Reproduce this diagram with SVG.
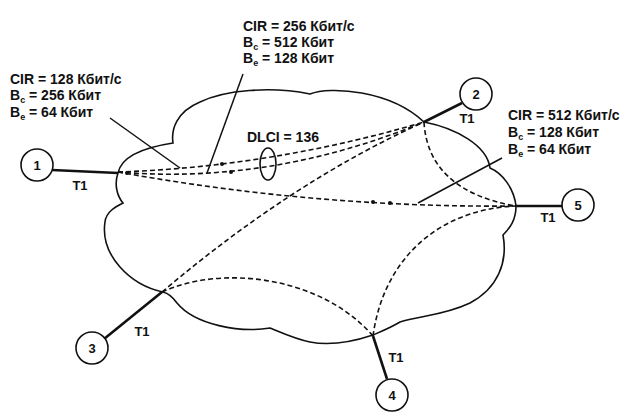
<svg xmlns="http://www.w3.org/2000/svg" width="643" height="420" viewBox="0 0 643 420">
<defs>
<style>
text{font-family:"Liberation Sans",Arial,sans-serif;font-weight:bold;fill:#111}
.lbl{font-size:14px}
.sub{font-size:9px}
.num{font-size:13px;text-anchor:middle}
.t1{font-size:13px;text-anchor:middle}
.node{fill:#fff;stroke:#111;stroke-width:1.6}
.link{stroke:#111;stroke-width:2.6;fill:none}
.cloud{fill:none;stroke:#111;stroke-width:1.6}
.vc{fill:none;stroke:#111;stroke-width:1.6;stroke-dasharray:5 3}
.ptr{stroke:#111;stroke-width:1.5;fill:none}
.dot{fill:#111}
</style>
</defs>
<rect width="643" height="420" fill="#fff"/>
<g id="cloud">
<path class="cloud" d="M118,173 C121,158 140,148 173,143 C171,130 176,112 200,102 C225,90 270,86 310,94 C330,86 390,90 424,122 C455,128 487,145 490,168 C502,173 514,188 516,206 C516,220 510,228 503,235 C508,262 498,288 470,303 C445,315 420,316 400,322 C390,328 380,332 373,335 C355,341 330,346 310,342 C295,339 280,332 270,328 C240,333 195,325 177,303 C172,296 167,293 163,292 C130,285 100,255 105,222 C106,212 115,207 123,203 C117,196 114,184 118,173 Z"/>
</g>
<g id="connectors">
<path class="vc" d="M118,172 Q271,167 424,122"/>
<path class="vc" d="M118,172 Q271,185 424,122"/>
<path class="vc" d="M118,172 Q316,208 515,206"/>
<path class="vc" d="M162,292 Q293,181 424,122"/>
<path class="vc" d="M424,122 Q428,190 515,206"/>
<path class="vc" d="M162,292 C220,265 320,275 373,336"/>
<path class="vc" d="M373,336 C383,262 435,210 515,206"/>
<circle class="dot" cx="222" cy="164" r="2"/>
<circle class="dot" cx="231" cy="172" r="2"/>
<circle class="dot" cx="373" cy="202" r="2"/>
<circle class="dot" cx="390" cy="203" r="2"/>
<circle class="dot" cx="127" cy="173" r="2"/>
<line class="link" x1="52" y1="170" x2="118" y2="173"/>
<line class="link" x1="462" y1="103" x2="424" y2="122"/>
<line class="link" x1="562" y1="206" x2="515" y2="206"/>
<line class="link" x1="104" y1="339" x2="162" y2="292"/>
<line class="link" x1="387" y1="379" x2="373" y2="336"/>
<line class="ptr" x1="110" y1="118" x2="180" y2="168"/>
<line class="ptr" x1="243" y1="74" x2="207" y2="173"/>
<line class="ptr" x1="502" y1="158" x2="418" y2="203"/>
<ellipse cx="268" cy="164" rx="8" ry="16" fill="none" stroke="#111" stroke-width="1.6"/>
</g>
<g id="node1"><circle class="node" cx="37" cy="165" r="16"/><text class="num" x="37" y="170">1</text><text class="t1" x="80" y="190">T1</text></g>
<g id="node2"><circle class="node" cx="476" cy="94" r="16"/><text class="num" x="476" y="99">2</text><text class="t1" x="467" y="123">T1</text></g>
<g id="node3"><circle class="node" cx="92" cy="348" r="16"/><text class="num" x="92" y="353">3</text><text class="t1" x="142" y="336">T1</text></g>
<g id="node4"><circle class="node" cx="392" cy="395" r="16"/><text class="num" x="392" y="400">4</text><text class="t1" x="396" y="362">T1</text></g>
<g id="node5"><circle class="node" cx="578" cy="205" r="16"/><text class="num" x="578" y="210">5</text><text class="t1" x="548" y="222">T1</text></g>
<g id="label1">
<text class="lbl" x="10" y="84">CIR = 128 Кбит/с</text>
<text class="lbl" x="10" y="100">B<tspan class="sub" dy="3">c</tspan><tspan dy="-3"> = 256 Кбит</tspan></text>
<text class="lbl" x="10" y="117">B<tspan class="sub" dy="3">e</tspan><tspan dy="-3"> = 64 Кбит</tspan></text>
</g>
<g id="label2">
<text class="lbl" x="243" y="31">CIR = 256 Кбит/с</text>
<text class="lbl" x="243" y="47">B<tspan class="sub" dy="3">c</tspan><tspan dy="-3"> = 512 Кбит</tspan></text>
<text class="lbl" x="243" y="63">B<tspan class="sub" dy="3">e</tspan><tspan dy="-3"> = 128 Кбит</tspan></text>
</g>
<g id="label3">
<text class="lbl" x="508" y="120">CIR = 512 Кбит/с</text>
<text class="lbl" x="508" y="137">B<tspan class="sub" dy="3">c</tspan><tspan dy="-3"> = 128 Кбит</tspan></text>
<text class="lbl" x="508" y="154">B<tspan class="sub" dy="3">e</tspan><tspan dy="-3"> = 64 Кбит</tspan></text>
</g>
<g id="dlci"><text class="lbl" x="247" y="142">DLCI = 136</text></g>
</svg>
